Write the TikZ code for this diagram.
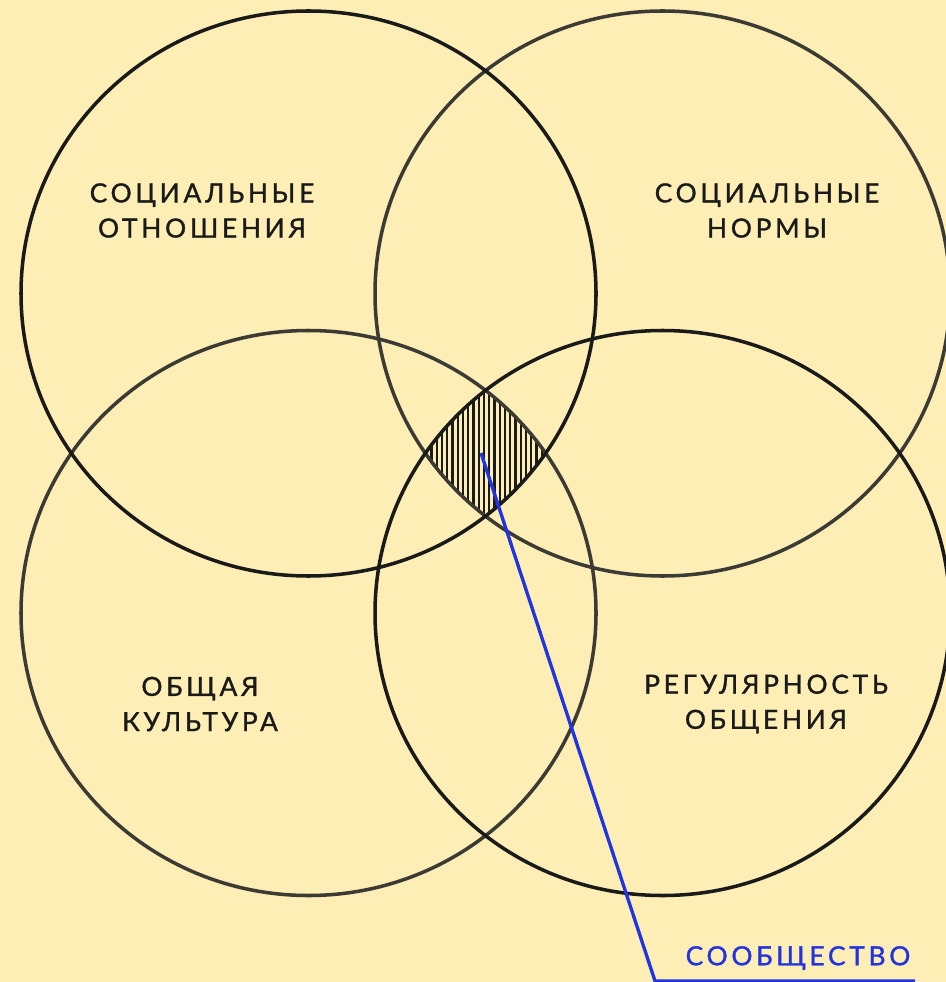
\documentclass[tikz,border=0pt]{standalone}
\usepackage{fontspec}
\setmainfont{Lato}
\newfontfamily\labelfont[LetterSpace=14,FakeBold=1.2]{Lato}
\definecolor{paper}{HTML}{FCEEB4}
\definecolor{ink}{HTML}{1A1A1A}
\definecolor{inkgray}{HTML}{3C3A34}
\definecolor{pen}{HTML}{2233E0}
\tikzset{
  ring/.style={line width=2pt, draw=ink},
  ringgray/.style={line width=2pt, draw=inkgray},
  tag/.style={font=\labelfont\fontsize{15}{20}\selectfont, text=ink, align=center, inner sep=0pt},
  pointer/.style={line width=1.9pt, draw=pen}
}
\begin{document}
\begin{tikzpicture}
\useasboundingbox (0,0) rectangle (18.920,-19.640);
\fill[paper] (0,0) rectangle (18.920,-19.640);
% circle centres
\coordinate (tl) at (6.170,-5.870);
\coordinate (tr) at (13.250,-5.870);
\coordinate (bl) at (6.170,-12.260);
\coordinate (br) at (13.250,-12.260);
% hatched core
\begin{scope}
\clip (tl) ellipse (5.750 and 5.650);
\clip (tr) ellipse (5.750 and 5.650);
\clip (bl) ellipse (5.750 and 5.650);
\clip (br) ellipse (5.750 and 5.650);
\foreach \x in {8.420,8.525,...,11.000}
  \draw[ink, line width=1.2pt] (\x,-7.500) -- (\x,-10.600);
\end{scope}
\draw[ringgray] (tr) ellipse (5.750 and 5.650);
\draw[ringgray] (bl) ellipse (5.750 and 5.650);
\draw[ring] (tl) ellipse (5.750 and 5.650);
\draw[ring] (br) ellipse (5.750 and 5.650);
% labels
\node[tag] (relations) at (4.040,-4.210) {СОЦИАЛЬНЫЕ\\ОТНОШЕНИЯ};
\node[tag] (norms) at (15.340,-4.210) {СОЦИАЛЬНЫЕ\\НОРМЫ};
\node[tag] (culture) at (4.000,-14.080) {ОБЩАЯ\\КУЛЬТУРА};
\node[tag] (regularity) at (15.320,-14.080) {РЕГУЛЯРНОСТЬ\\ОБЩЕНИЯ};
\node[tag, text=pen] (community) at (15.960,-19.160) {СООБЩЕСТВО};
% pointer
\coordinate (core) at (9.620,-9.060);
\coordinate (bend) at (13.100,-19.620);
\coordinate (tail) at (18.300,-19.620);
\draw[pointer] (core) -- (bend) -- (tail);
\end{tikzpicture}
\end{document}
